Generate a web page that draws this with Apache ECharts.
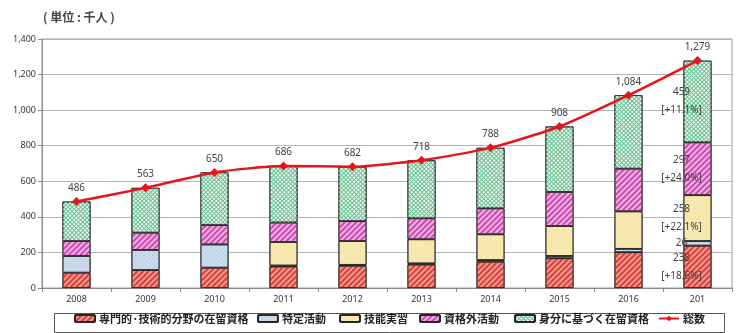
<!DOCTYPE html>
<html>
<head>
<meta charset="utf-8">
<script src="https://cdn.jsdelivr.net/npm/echarts@6/dist/echarts.min.js"></script>
<style>
  html, body { margin: 0; padding: 0; background: #fff; }
  #chart { width: 750px; height: 333px; }
</style>
</head>
<body>
<div id="chart"></div>
<script>
// Foreign workers by status of residence (thousand persons)
const years = ['2008', '2009', '2010', '2011', '2012', '2013', '2014', '2015', '2016', '201'];
const professional   = [86, 101, 114, 121, 125, 132, 148, 167, 201, 238];
const designated     = [94, 113, 131, 5, 5, 6, 9, 13, 19, 26];
const trainee        = [null, null, null, 132, 134, 136, 145, 168, 211, 258];
const outsideStatus  = [84, 97, 109, 110, 112, 118, 146, 192, 240, 297];
const residentStatus = [222, 252, 296, 318, 306, 326, 340, 368, 413, 459];
const total          = [486, 563, 650, 686, 682, 718, 788, 908, 1084, 1279];
// year-on-year change shown next to the latest bar
const latestGrowth   = ['+18.6%', null, '+22.1%', '+24.0%', '+11.1%'];

const seriesNames = ['専門的·技術的分野の在留資格', '特定活動', '技能実習', '資格外活動', '身分に基づく在留資格'];
const lineName = '総数';
const yTicks = { min: 0, max: 1400, interval: 200 };

const fmt = v => Number(v).toLocaleString('en-US');
const last = years.length - 1;

const stripe = (color) => ({
  symbol: 'rect', symbolSize: 1, color: color,
  dashArrayX: [1, 0], dashArrayY: [1.1, 1.7], rotation: -Math.PI / 4
});
const dots = (color) => ({
  symbol: 'rect', symbolSize: 1, color: color,
  dashArrayX: [1, 1.2], dashArrayY: [1, 1.2], rotation: Math.PI / 4
});
const lattice = (color) => ({
  symbol: 'rect', symbolSize: 1, color: color,
  dashArrayX: [2, 0.9], dashArrayY: [2, 0.9], rotation: Math.PI / 4
});

const styles = [
  { color: '#f49a8f', decal: stripe('#d8413a') },
  { color: '#cbdced', decal: dots('rgba(120,150,185,0.5)') },
  { color: '#f8eab0', decal: dots('rgba(205,175,85,0.35)') },
  { color: '#f3b2e6', decal: stripe('#c94bae') },
  { color: '#6cbf91', decal: lattice('#eefaf2') }
];
const values = [professional, designated, trainee, outsideStatus, residentStatus];

function withLatestLabel(arr, k) {
  return arr.map((v, i) => {
    if (i !== last) return v;
    const g = latestGrowth[k];
    return {
      value: v,
      label: {
        show: true,
        position: 'inside',
        offset: [-16, 0],
        formatter: g ? '{v|' + v + '}\n{p|[' + g + ']}' : '{v|' + v + '}',
        rich: {
          v: { fontSize: 10, color: '#404040', lineHeight: 18, fontFamily: 'Noto Sans' },
          p: { fontSize: 10, color: '#404040', lineHeight: 18, fontFamily: 'Noto Sans' }
        }
      }
    };
  });
}

const barSeries = values.map((arr, k) => ({
  name: seriesNames[k],
  type: 'bar',
  stack: 'total',
  barWidth: 28,
  data: withLatestLabel(arr, k),
  itemStyle: {
    color: styles[k].color,
    decal: styles[k].decal,
    borderColor: '#262626',
    borderWidth: 0.8
  },
  emphasis: { disabled: true },
  z: 2
}));

const lineSeries = {
  name: lineName,
  type: 'line',
  data: total,
  smooth: 0.2,
  symbol: 'diamond',
  symbolSize: 9,
  lineStyle: { color: '#e8141b', width: 2.5 },
  itemStyle: { color: '#e8141b' },
  label: {
    show: true, position: 'top', distance: 4,
    formatter: p => fmt(p.value),
    fontSize: 10, color: '#404040', fontFamily: 'Noto Sans'
  },
  z: 5
};

const legendLeft = [74, 257, 339, 419, 514, 658];
const allNames = seriesNames.concat([lineName]);
const legends = allNames.map((n, i) => ({
  data: [n],
  left: legendLeft[i],
  top: 313,
  itemWidth: 20,
  itemHeight: 7,
  itemGap: 3,
  padding: 0,
  textStyle: { fontSize: 11, fontWeight: 'bold', color: '#222', fontFamily: 'Noto Sans CJK JP', padding: [0, 0, 0, -1] },
  selectedMode: false
}));

const chart = echarts.init(document.getElementById('chart'), null, { renderer: 'canvas' });
chart.setOption({
  animation: false,
  aria: { enabled: true, decal: { show: true } },
  title: {
    text: '( 単位 : 千人 )',
    left: 38, top: 6,
    textStyle: { fontSize: 12, fontWeight: 'bold', color: '#444', fontFamily: 'Noto Sans CJK JP' }
  },
  grid: { left: 42, right: 18, top: 39, bottom: 45, show: true, borderColor: '#9a9a9a', borderWidth: 1 },
  legend: legends,
  graphic: [{
    type: 'rect', left: 52, top: 311, shape: { width: 670, height: 19 },
    style: { fill: 'none', stroke: '#555', lineWidth: 1 }, silent: true
  }],
  xAxis: {
    type: 'category',
    data: years,
    axisLine: { lineStyle: { color: '#8a8a8a' } },
    axisTick: { show: true, length: 4, lineStyle: { color: '#8a8a8a' } },
    axisLabel: { fontSize: 9, color: '#333', margin: 7, fontFamily: 'Noto Sans' }
  },
  yAxis: {
    type: 'value',
    min: yTicks.min, max: yTicks.max, interval: yTicks.interval,
    axisLine: { show: true, lineStyle: { color: '#8a8a8a' } },
    axisTick: { show: true, length: 4, lineStyle: { color: '#8a8a8a' } },
    axisLabel: { fontSize: 9, color: '#333', margin: 6, formatter: v => fmt(v), fontFamily: 'Noto Sans' },
    splitLine: { lineStyle: { color: '#b5b5b5', width: 1 } }
  },
  series: barSeries.concat([lineSeries])
});
</script>
</body>
</html>
